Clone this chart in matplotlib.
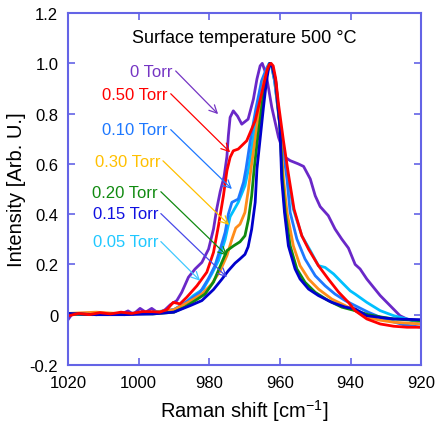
import matplotlib
matplotlib.use("Agg")
import matplotlib.pyplot as plt

plt.rcParams["font.family"] = ["Liberation Sans", "DejaVu Sans"]

# series data: Raman shift (cm-1) and normalised intensity
w_0 = [1020, 1019, 1017, 1013, 1009, 1005, 1003, 1001.5, 999.6, 998, 996.3, 995, 994,
       992.5, 991, 989.2, 987.8, 985.9, 984, 982.1, 980.2, 978.8, 977.9, 976.9, 975.8,
       975, 974.6, 974.1, 973.2, 972, 970.8, 969, 967.5, 966.5, 965.6, 965, 963.9,
       962.3, 960.4, 958.5, 957.1, 954.8, 953.3, 951.4, 950, 948.6, 946.3, 944.4, 942.5,
       940.6, 938.7, 937.3, 935.4, 933.5, 931.6, 928.8, 926, 924.1, 922, 920]
i_0 = [-0.02, 0.0, 0.003, 0.0, 0.005, 0.002, 0.015, 0.002, 0.025, 0.01, 0.025, 0.012, 0.008,
       0.02, 0.04, 0.056, 0.089, 0.149, 0.182, 0.208, 0.261, 0.341, 0.42, 0.49, 0.55,
       0.63, 0.712, 0.785, 0.811, 0.79, 0.758, 0.778, 0.858, 0.938, 0.99, 1.0, 0.957,
       0.825, 0.706, 0.626, 0.613, 0.60, 0.59, 0.54, 0.473, 0.43, 0.394, 0.341, 0.301,
       0.265, 0.2, 0.182, 0.142, 0.109, 0.076, 0.036, -0.004, -0.017, -0.025, -0.03]

w_05 = [1020, 1012, 1004, 996, 990, 987, 984.5, 981.7, 979.3, 977.4, 975.5, 974.1, 971.8,
        969.9, 968.9, 967.6, 966.2, 964.8, 963.6, 963.0, 962.3, 961.5, 960, 957.6, 956.2,
        953.8, 951.4, 949.1, 947.2, 944.8, 942.5, 940.1, 938.7, 935.4, 931.6, 927.8,
        924.1, 920]
i_05 = [0.0, 0.005, 0.0, 0.01, 0.02, 0.045, 0.076, 0.102, 0.162, 0.215, 0.30, 0.39, 0.447,
        0.513, 0.58, 0.70, 0.82, 0.93, 0.98, 1.0, 0.985, 0.93, 0.76, 0.54, 0.42,
        0.314, 0.255, 0.195, 0.188, 0.162, 0.129, 0.095, 0.082, 0.049, 0.016, -0.004,
        -0.017, -0.03]

w_10 = [1020, 1012, 1004, 996, 990, 985.9, 982.6, 980.3, 978.4, 976.9, 975.5, 974.6, 973.6,
        971.8, 970.3, 969.6, 968.3, 966.8, 965.2, 963.8, 963.0, 962.3, 961.5, 960, 958,
        957.1, 955.2, 952.9, 950, 947.2, 944.4, 941.5, 938.7, 935, 930, 925, 920]
i_10 = [0.005, 0.0, 0.005, 0.008, 0.02, 0.056, 0.089, 0.142, 0.195, 0.261, 0.328, 0.40, 0.447,
        0.46, 0.527, 0.58, 0.70, 0.82, 0.93, 0.98, 1.0, 0.985, 0.93, 0.75, 0.54,
        0.407, 0.301, 0.222, 0.155, 0.115, 0.082, 0.056, 0.036, 0.01, -0.02, -0.04, -0.05]

w_30 = [1020, 1012, 1004, 996, 990, 985.9, 982.1, 979.3, 976.9, 975, 973.6, 972.5, 971.3,
        969.9, 968.9, 968.2, 967.0, 965.8, 964.5, 963.4, 962.8, 962.1, 961.3, 960, 959,
        958, 956.2, 954.3, 951.9, 949.1, 945.3, 941.5, 938.7, 935.4, 931.6, 927.8, 920]
i_30 = [0.005, 0.01, 0.003, 0.008, 0.02, 0.05, 0.082, 0.122, 0.175, 0.235, 0.30, 0.345, 0.36,
        0.407, 0.50, 0.58, 0.70, 0.82, 0.93, 0.98, 1.0, 0.985, 0.93, 0.75, 0.54,
        0.407, 0.274, 0.195, 0.142, 0.102, 0.062, 0.036, 0.016, -0.01, -0.022, -0.03, -0.037]

w_20 = [1020, 1012, 1004, 996, 990, 987, 984, 981.2, 978.8, 976.7, 975, 973, 971.3,
        969.9, 968.9, 968.0, 967.3, 966.3, 965.2, 964.2, 963.3, 962.8, 962.1, 961.2, 960,
        959.3, 958.5, 957.1, 955.2, 952.9, 950, 946.3, 942.5, 938.7, 935, 931, 927.8, 920]
i_20 = [0.003, 0.0, 0.005, 0.003, 0.01, 0.03, 0.056, 0.082, 0.13, 0.20, 0.255, 0.275, 0.29,
        0.314, 0.38, 0.473, 0.58, 0.70, 0.82, 0.93, 0.98, 1.0, 0.985, 0.93, 0.75,
        0.54, 0.407, 0.274, 0.182, 0.129, 0.089, 0.056, 0.03, 0.016, 0.0, -0.01, -0.017, -0.024]

w_15 = [1020, 1012, 1004, 996, 990, 985.4, 982.1, 978.8, 976.5, 974.6, 972.7, 971.3, 969.9,
        969.0, 968.0, 967.0, 966.5, 965.6, 964.7, 963.8, 963.2, 962.8, 962.1, 961.2, 960,
        959.5, 958.7, 957.6, 955.7, 954.3, 951.9, 949.1, 945.3, 941.5, 938.7, 935.4, 931,
        927.8, 920]
i_15 = [0.005, 0.0, 0.0, 0.003, 0.01, 0.036, 0.056, 0.10, 0.14, 0.175, 0.205, 0.222, 0.24,
        0.27, 0.34, 0.447, 0.58, 0.70, 0.82, 0.93, 0.98, 1.0, 0.985, 0.93, 0.75,
        0.54, 0.407, 0.274, 0.182, 0.142, 0.102, 0.076, 0.049, 0.03, 0.023, -0.004, -0.012,
        -0.017, -0.02]

w_50 = [1020, 1017, 1014, 1011, 1008, 1005, 1002, 999, 996, 994, 992, 990.2, 988.3, 986.4,
        983.5, 980.7, 978.8, 977.4, 976, 975, 974.1, 973.2, 971.8, 969.4, 967, 965.2,
        963.7, 963.0, 962.5, 961.9, 961.2, 960.4, 959, 957.6, 956, 953.8, 951.9, 949.1,
        946.3, 943.4, 940.6, 938.7, 935.4, 931.6, 927.8, 924, 920]
i_50 = [-0.005, 0.005, 0.0, 0.008, 0.003, 0.01, 0.005, 0.012, 0.012, 0.01, 0.02, 0.049, 0.043,
        0.069, 0.115, 0.169, 0.248, 0.354, 0.473, 0.573, 0.626, 0.652, 0.659, 0.692, 0.772,
        0.878, 0.97, 0.995, 1.0, 0.99, 0.94, 0.838, 0.692, 0.56, 0.42, 0.314, 0.261, 0.195,
        0.142, 0.09, 0.049, 0.016, -0.017, -0.037, -0.046, -0.05, -0.05]

# label text, label colour, arrow colour, text anchor (w, I), arrow tip (w, I)
labels = ["0 Torr", "0.50 Torr", "0.10 Torr", "0.30 Torr", "0.20 Torr", "0.15 Torr", "0.05 Torr"]
label_colors = ["#7535c4", "#ff0000", "#1e78ff", "#ffc000", "#108a10", "#1010e0", "#20c8ff"]
arrow_colors = ["#7535c4", "#ff0000", "#1e78ff", "#ffc000", "#108a10", "#4848e8", "#40c8ff"]
text_xy = [(990.3, 0.969), (991.7, 0.878), (991.7, 0.735), (993.9, 0.611),
           (994.5, 0.488), (994.5, 0.401), (994.5, 0.29)]
tip_xy = [(977.5, 0.798), (974.1, 0.646), (973.6, 0.50), (974.4, 0.357),
          (975.0, 0.235), (975.0, 0.149), (982.6, 0.135)]

curves = [
    (w_0, i_0, "#6a28c8"),
    (w_05, i_05, "#00c0ff"),
    (w_10, i_10, "#1e78ff"),
    (w_30, i_30, "#ff8c1a"),
    (w_20, i_20, "#108a10"),
    (w_15, i_15, "#0000cc"),
    (w_50, i_50, "#ff0000"),
]

fig = plt.figure(figsize=(4.36, 4.27), dpi=100)
ax = fig.add_axes([0.156, 0.143, 0.81, 0.824])

for w, i, c in curves:
    ax.plot(w, i, color=c, linewidth=2.0, solid_joinstyle="round")

for lab, lc, ac, txy, tip in zip(labels, label_colors, arrow_colors, text_xy, tip_xy):
    ax.annotate(lab, xy=tip, xytext=txy, ha="right", va="center", color=lc, fontsize=12,
                arrowprops=dict(arrowstyle="->", color=ac, lw=0.9, shrinkA=0, shrinkB=0,
                                relpos=(1.0, 0.7), mutation_scale=14))

ax.text(0.5, 0.93, "Surface temperature 500 \u00b0C", transform=ax.transAxes,
        ha="center", va="center", fontsize=13)

ax.set_xlim(1020, 920)
ax.set_ylim(-0.2, 1.2)
ax.set_xticks([1020, 1000, 980, 960, 940, 920])
ax.set_yticks([-0.2, 0, 0.2, 0.4, 0.6, 0.8, 1.0, 1.2])
ax.set_yticklabels(["-0.2", "0", "0.2", "0.4", "0.6", "0.8", "1.0", "1.2"])
spine_color = "#6464e6"
for s in ax.spines.values():
    s.set_color(spine_color)
    s.set_linewidth(1.5)
ax.tick_params(direction="in", length=5, width=1.2, color=spine_color, labelsize=12,
               top=True, right=True, pad=7)
ax.set_xlabel("Raman shift [cm$^{\\mathregular{-1}}$]", fontsize=14.5, labelpad=5)
ax.set_ylabel("Intensity [Arb. U.]", fontsize=14.5, labelpad=3)

fig.savefig("out.png", dpi=100)
